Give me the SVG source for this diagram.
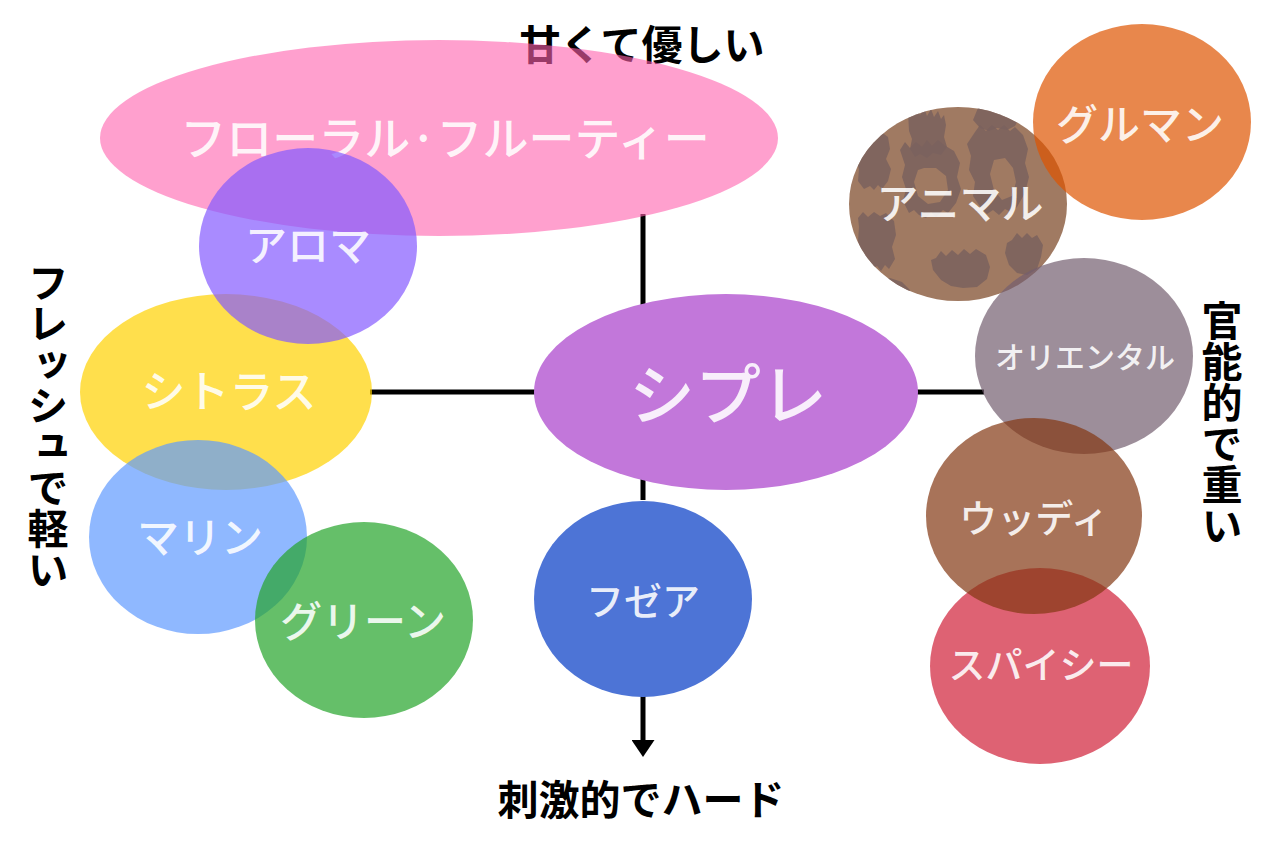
<svg xmlns="http://www.w3.org/2000/svg" width="1280" height="853" viewBox="0 0 1280 853">
<style>
.lbl{font-family:"Noto Sans CJK JP","Noto Sans CJK SC",sans-serif;font-weight:500;fill:#ffffff;fill-opacity:0.88;text-anchor:middle}
.axis{font-family:"Noto Sans CJK JP","Noto Sans CJK SC",sans-serif;font-weight:700;fill:#000000;font-size:41px}
.vert{writing-mode:vertical-rl;text-anchor:start}
.ln{stroke:#000;stroke-width:5;fill:none}
.spot{fill:#7a625e;fill-opacity:0.85}
</style>
<defs>
<marker id="arr" viewBox="0 0 10 10" refX="0" refY="5" markerWidth="3.4" markerHeight="4.6" orient="auto" markerUnits="strokeWidth" preserveAspectRatio="none">
<path d="M0,0 L10,5 L0,10 Z" fill="#000"/>
</marker>
<clipPath id="animalClip"><ellipse cx="958" cy="204" rx="109" ry="97"/></clipPath>
</defs>
<rect width="1280" height="853" fill="#ffffff"/>

<text id="axis-top" class="axis" x="642" y="60" text-anchor="middle">甘くて優しい</text>

<g id="connectors">
<line class="ln" x1="643" y1="214" x2="643" y2="500"/>
<line class="ln" x1="643" y1="690" x2="643" y2="740" marker-end="url(#arr)"/>
<line class="ln" x1="370" y1="392" x2="540" y2="392"/>
<line class="ln" x1="910" y1="392" x2="984" y2="392"/>
</g>

<g id="floral">
<ellipse cx="439" cy="138" rx="339" ry="98" fill="#ff61ad" fill-opacity="0.6"/>
<text class="lbl" x="445" y="155" font-size="46">フローラル·フルーティー</text>
</g>
<g id="citrus">
<ellipse cx="226" cy="392" rx="146" ry="98" fill="#ffd100" fill-opacity="0.7"/>
<text class="lbl" x="229" y="408" font-size="44">シトラス</text>
</g>
<g id="aroma">
<ellipse cx="308" cy="246" rx="109" ry="98" fill="#855aff" fill-opacity="0.7"/>
<text class="lbl" x="308" y="261" font-size="42">アロマ</text>
</g>
<g id="marine">
<ellipse cx="198" cy="537" rx="109" ry="97" fill="#5f9aff" fill-opacity="0.7"/>
<text class="lbl" x="200" y="553" font-size="42">マリン</text>
</g>
<g id="green">
<ellipse cx="364" cy="620" rx="109" ry="98" fill="#23a42a" fill-opacity="0.7"/>
<text class="lbl" x="363" y="637" font-size="42">グリーン</text>
</g>
<g id="chypre">
<ellipse cx="726" cy="392" rx="192" ry="98" fill="#c277da"/>
<text class="lbl" x="728" y="419" font-size="66">シプレ</text>
</g>
<g id="fougere">
<ellipse cx="643" cy="599" rx="109" ry="98" fill="#4d74d6"/>
<text class="lbl" x="643" y="615" font-size="38">フゼア</text>
</g>

<g id="animal">
<ellipse cx="958" cy="204" rx="109" ry="97" fill="#a07a62"/>
<g clip-path="url(#animalClip)">
<path class="spot" d="M908,112 l3,-6 l3,8 l3,-7 l3,8 l4,-8 l3,9 l4,-7 l3,8 l4,-6 l3,8 l3,-4 l2,10 l-2,12 l3,10 l-6,8 l-8,-2 l-6,5 l-7,-4 l-5,3 l-5,-8 l2,-10 l-3,-8 z"/>
<path class="spot" d="M978,108 l4,-6 l4,7 l4,-6 l4,7 l4,-6 l4,7 l4,-5 l4,6 l4,-4 l6,8 l-5,10 l-8,4 l-10,-2 l-8,3 l-9,-3 l-7,-8 z"/>
<path class="spot" d="M858,136 l4,-6 l4,5 l5,-5 l4,5 l5,-4 l8,6 l2,12 l-4,10 l5,10 l-3,12 l-6,8 l-4,-4 l-4,5 l-4,-4 l-6,3 l-6,-8 l1,-12 l-4,-10 l3,-12 z"/>
<path class="spot" d="M900,150 l5,-8 l5,6 l6,-6 l6,5 l5,-7 l5,6 l6,-6 l6,5 l10,6 l6,12 l-3,14 l4,12 l-5,14 l-8,10 l-5,-3 l-7,7 l-5,-5 l-5,6 l-7,-3 l-5,-5 l-5,3 l-6,-12 l3,-12 l-4,-12 l3,-12 z M918,170 l-4,12 l4,14 l10,8 l12,-2 l8,-12 l-2,-14 l-10,-8 l-12,0 z"/>
<path class="spot" d="M975,132 l5,-7 l6,6 l6,-6 l6,5 l6,-5 l6,6 l5,-4 l8,8 l5,14 l-3,14 l4,14 l-4,16 l-8,14 l-6,5 l-6,-3 l-6,6 l-6,-5 l-6,4 l-6,-6 l-8,-12 l2,-14 l-6,-12 l2,-14 l-4,-12 z M994,160 l-4,14 l4,16 l8,10 l10,-4 l4,-14 l-3,-14 l-8,-10 z"/>
<path class="spot" d="M858,218 l5,-6 l5,5 l6,-5 l6,4 l6,-3 l8,8 l2,14 l-4,12 l3,12 l-6,10 l-4,-4 l-4,6 l-4,-5 l-5,3 l-5,-8 l-5,-6 l-4,-14 l1,-14 z"/>
<path class="spot" d="M936,258 l5,-7 l5,5 l6,-6 l6,5 l6,-6 l6,5 l6,-5 l10,6 l4,12 l-3,12 l-10,8 l-14,1 l-12,-2 l-10,-6 l-8,-10 l-2,-10 z"/>
<path class="spot" d="M1012,240 l5,-7 l5,5 l5,-5 l5,5 l5,-3 l6,10 l-2,12 l-4,12 l-10,6 l-10,-2 l-8,-8 l-4,-12 l2,-10 z"/>
<path class="spot" d="M880,282 l10,-4 l12,4 l8,8 l-4,10 l-14,2 l-10,-6 z"/>
</g>
<text class="lbl" x="960" y="219" font-size="42">アニマル</text>
</g>
<g id="gourmand">
<ellipse cx="1142" cy="122" rx="109" ry="98" fill="#de5400" fill-opacity="0.7"/>
<text class="lbl" x="1140" y="140" font-size="42">グルマン</text>
</g>
<g id="oriental">
<ellipse cx="1084" cy="356" rx="109" ry="98" fill="#745e6f" fill-opacity="0.7"/>
<text class="lbl" x="1085" y="368" font-size="30">オリエンタル</text>
</g>
<g id="spicy">
<ellipse cx="1040" cy="666" rx="110" ry="98" fill="#d02037" fill-opacity="0.7"/>
<text class="lbl" x="1041" y="679" font-size="37">スパイシー</text>
</g>
<g id="woody">
<ellipse cx="1034" cy="516" rx="108" ry="98" fill="#833713" fill-opacity="0.7"/>
<text class="lbl" x="1034" y="532" font-size="38">ウッディ</text>
</g>

<text id="axis-bottom" class="axis" x="641" y="815" text-anchor="middle">刺激的でハード</text>
<text id="axis-left" class="axis vert" x="48" y="262" font-size="40">フレッシュで軽い</text>
<text id="axis-right" class="axis vert" x="1222" y="300">官能的で重い</text>
</svg>
